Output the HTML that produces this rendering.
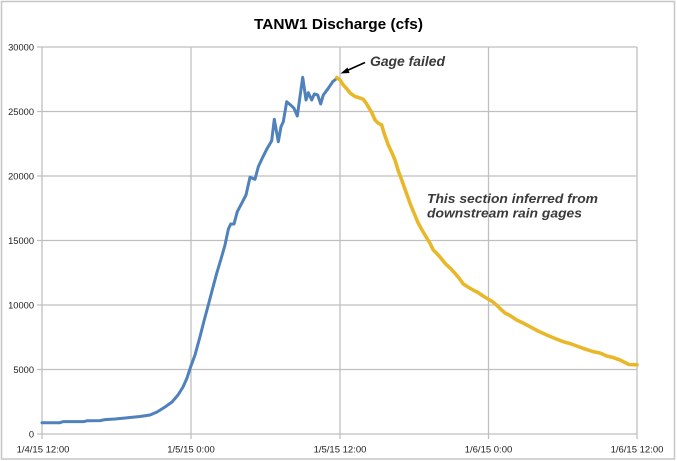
<!DOCTYPE html>
<html>
<head>
<meta charset="utf-8">
<style>
  html, body { margin:0; padding:0; background:#ffffff; }
  body { width:677px; height:461px; overflow:hidden; }
  svg { display:block; }
</style>
</head>
<body>
<svg width="677" height="461" viewBox="0 0 677 461" xmlns="http://www.w3.org/2000/svg">
  <rect x="0" y="0" width="677" height="461" fill="#ffffff"/>
  <rect x="1.5" y="1.5" width="673" height="457.5" fill="none" stroke="#c6c6c6" stroke-width="1.5"/>

  <!-- Title -->
  <text x="338.5" y="29" text-anchor="middle" font-family="Liberation Sans, sans-serif" font-weight="bold" font-size="15" fill="#000" textLength="169" lengthAdjust="spacingAndGlyphs">TANW1 Discharge (cfs)</text>

  <!-- Gridlines -->
  <g stroke="#bfbfbf" stroke-width="1.3" fill="none">
    <line x1="37" y1="47" x2="637" y2="47"/>
    <line x1="37" y1="111.5" x2="637" y2="111.5"/>
    <line x1="37" y1="176" x2="637" y2="176"/>
    <line x1="37" y1="240.5" x2="637" y2="240.5"/>
    <line x1="37" y1="305" x2="637" y2="305"/>
    <line x1="37" y1="369.5" x2="637" y2="369.5"/>
    <line x1="37" y1="434" x2="637" y2="434"/>
    <line x1="42" y1="47" x2="42" y2="439"/>
    <line x1="191" y1="47" x2="191" y2="439"/>
    <line x1="340" y1="47" x2="340" y2="439"/>
    <line x1="488.5" y1="47" x2="488.5" y2="439"/>
    <line x1="637" y1="47" x2="637" y2="439"/>
  </g>

  <!-- Y labels -->
  <g font-family="Liberation Sans, sans-serif" font-size="9.3" fill="#222" text-anchor="end">
    <text x="34" y="50.3">30000</text>
    <text x="34" y="114.8">25000</text>
    <text x="34" y="179.3">20000</text>
    <text x="34" y="243.8">15000</text>
    <text x="34" y="308.3">10000</text>
    <text x="34" y="372.8">5000</text>
    <text x="34" y="437.3">0</text>
  </g>

  <!-- X labels -->
  <g font-family="Liberation Sans, sans-serif" font-size="9.5" fill="#222" text-anchor="middle">
    <text x="43" y="452.5">1/4/15 12:00</text>
    <text x="191" y="452.5">1/5/15 0:00</text>
    <text x="340" y="452.5">1/5/15 12:00</text>
    <text x="488.5" y="452.5">1/6/15 0:00</text>
    <text x="637" y="452.5">1/6/15 12:00</text>
  </g>

  <!-- Blue measured series -->
  <polyline fill="none" stroke="#4f81bd" stroke-width="3" stroke-linejoin="round" stroke-linecap="round"
    points="42,422.7 60,422.7 63,421.6 84,421.6 87,420.8 100,420.6 105,419.6 115,419 120,418.5 130,417.5 140,416.5 150,415 157,412 165,407 172,402 178,395 183,387 187,378 190.7,366.7 195,355 200,336.7 204,321 208.3,305 212.5,289 216.7,273.3 221,259 225,245 228.3,229.3 230.7,224 234,224 237.3,211.7 241.7,203.3 246,195 250,177.3 255,179.3 258.3,166.7 262.7,157.3 266.7,149.3 271.7,140.7 274.3,119.3 278.3,141.7 281,126.7 283.3,121.7 286.7,101.7 291.7,106 294,108.3 297.3,116 302.7,77.3 306,100 308.3,92.7 311.7,100 314.3,94 317.7,95 320.7,104 323.3,95 328.3,88.3 332.7,81.7 336.7,78.5"/>

  <!-- Yellow inferred series -->
  <polyline fill="none" stroke="#e9b82a" stroke-width="3.6" stroke-linejoin="round" stroke-linecap="round"
    points="336.7,77.5 340,80 343.3,85 347,89 350,93 355,96.5 360,98 363.3,99.3 366,103 368.3,106.7 372,113 375,120 378,123 381.7,125 384,133 388.3,145 392,153 395,160 398,170 401.7,180 406,192 410,203.3 414,213 418.3,223.3 422,230 425,235 430,243.3 433.3,250 436.7,253.3 440,257 445,263.3 450,268 455,273.3 459,278 463.3,284 468,287 473,290 478,292.5 483,296 488,299 493,302 497,305.5 501,309.5 505,313 510,315.5 516.7,320 523,323 530,326.7 538,331 546.7,335 555,338.5 563.3,341.7 570,343.5 576.7,346 585,349 593.3,351.7 600,353 606.7,356 613,357.5 620,360 625,362.5 629,364.5 637,364.8"/>

  <!-- Annotation arrow -->
  <line x1="365" y1="62.5" x2="346" y2="71" stroke="#000" stroke-width="1.6"/>
  <polygon points="340.5,73.5 347.5,67.5 349.5,73" fill="#000"/>

  <!-- Annotations -->
  <g font-family="Liberation Sans, sans-serif" font-weight="bold" font-style="italic" fill="#3a3a3a">
    <text x="370" y="66" font-size="13.5" textLength="75" lengthAdjust="spacingAndGlyphs">Gage failed</text>
    <text x="427" y="203" font-size="13" textLength="171" lengthAdjust="spacingAndGlyphs">This section inferred from</text>
    <text x="427" y="217.5" font-size="13" textLength="155" lengthAdjust="spacingAndGlyphs">downstream rain gages</text>
  </g>
</svg>
</body>
</html>
